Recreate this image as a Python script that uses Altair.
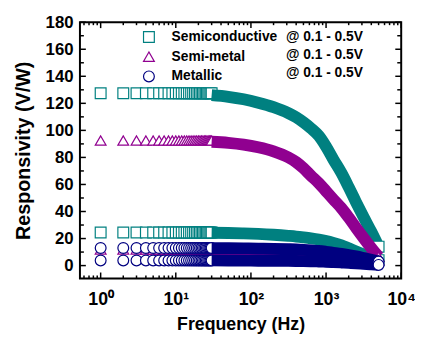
import altair as alt
import pandas as pd

MATERIALS = ["Semiconductive", "Semi-metal", "Metallic"]
COLORS = ["#008080", "#900090", "#000080"]
SHAPES = ["square", "triangle-up", "circle"]
VOLT_LABEL = "@ 0.1 - 0.5V"

FREQ = [1, 10, 20, 30, 50, 80, 125, 200, 315, 400, 500, 630, 800, 1000, 1250, 1600, 2000, 2500, 3150, 4000, 5000]
SEMI_05 = [127.5, 127.3, 126.8, 126.0, 124.8, 123.0, 120.5, 117.2, 112.8, 109.7, 106.0, 101.5, 96.0, 88.0, 78.5, 68.5, 58.0, 47.0, 36.0, 25.0, 14.0]
SEMI_01 = [24.5, 24.5, 24.4, 24.3, 24.1, 23.8, 23.4, 22.8, 22.0, 21.5, 20.9, 20.2, 19.3, 18.2, 16.8, 15.0, 12.8, 10.5, 8.2, 6.0, 4.0]
SEMIMETAL_05 = [92.5, 92.4, 92.0, 91.6, 90.8, 89.5, 87.5, 84.5, 80.0, 76.5, 72.0, 66.5, 61.0, 55.0, 49.0, 42.5, 35.5, 28.0, 20.5, 13.0, 6.5]
SEMIMETAL_01 = [12.0, 12.0, 12.0, 11.9, 11.8, 11.7, 11.5, 11.2, 10.8, 10.5, 10.2, 9.8, 9.4, 8.9, 8.4, 7.8, 7.1, 6.4, 5.6, 4.8, 4.0]
METALLIC_05 = [13.0, 13.0, 12.9, 12.9, 12.8, 12.7, 12.6, 12.4, 12.1, 11.9, 11.6, 11.2, 10.8, 10.2, 9.5, 8.7, 7.8, 6.8, 5.6, 4.3, 3.0]
METALLIC_01 = [3.8, 3.8, 3.8, 3.8, 3.7, 3.7, 3.6, 3.6, 3.5, 3.4, 3.3, 3.2, 3.0, 2.8, 2.6, 2.3, 2.0, 1.7, 1.3, 0.9, 0.5]

# the individually visible measurement points at low frequency (1 Hz steps)
MARKER_FREQ = list(range(1, 31))

X_MAJOR = [1, 10, 100, 1000, 10000]
X_MINOR = [0.6, 0.7, 0.8, 0.9] + [k * 10 ** d for d in range(4) for k in range(2, 10)]
Y_MAJOR = list(range(0, 181, 20))
Y_MINOR = list(range(10, 180, 20))

SERIES = [
    ("Semiconductive", "0.5V", SEMI_05),
    ("Semiconductive", "0.1V", SEMI_01),
    ("Semi-metal", "0.5V", SEMIMETAL_05),
    ("Semi-metal", "0.1V", SEMIMETAL_01),
    ("Metallic", "0.5V", METALLIC_05),
    ("Metallic", "0.1V", METALLIC_01),
]

curve_rows, mark_rows = [], []
for mat, volt, vals in SERIES:
    key = mat + " " + volt
    for f, r in zip(FREQ, vals):
        curve_rows.append({"material": mat, "key": key, "f": f, "r": r})
    for f in MARKER_FREQ:
        mark_rows.append({"material": mat, "key": key, "f": f, "r": vals[0]})
curve = pd.DataFrame(curve_rows)
marks = pd.DataFrame(mark_rows)

W, H = 326, 260
FONT = "Liberation Sans"

xscale = alt.Scale(type="log", domain=[0.53, 10000], nice=False)
yscale = alt.Scale(domain=[-9.5, 180], nice=False, zero=False)

xaxis = alt.Axis(values=X_MAJOR, tickSize=0, domain=False, grid=False,
                 labelExpr="'10' + ['⁰','¹','²','³','⁴'][round(log(datum.value)/LN10)]",
                 labelFont=FONT, labelFontSize=18, labelFontWeight="bold", labelColor="black",
                 labelPadding=12, labelFlush=False,
                 title="Frequency (Hz)", titleFont=FONT, titleFontSize=18, titleFontWeight="bold",
                 titleColor="black", titlePadding=8)
yaxis = alt.Axis(values=Y_MAJOR, tickSize=0, domain=False, grid=False,
                 labelFont=FONT, labelFontSize=17, labelFontWeight="bold", labelColor="black",
                 labelPadding=7,
                 title="Responsivity (V/W)", titleFont=FONT, titleFontSize=20, titleFontWeight="bold",
                 titleColor="black", titlePadding=12)

X = alt.X("f:Q", scale=xscale, axis=xaxis)
Y = alt.Y("r:Q", scale=yscale, axis=yaxis)

legend = alt.Legend(orient="none", legendX=63, legendY=8, title=None,
                    symbolSize=120, symbolStrokeWidth=1.2, symbolFillColor="white",
                    labelFont=FONT, labelFontSize=14, labelFontWeight="bold", labelColor="black",
                    labelOffset=16, rowPadding=4, padding=0)
color_enc = alt.Color("material:N", scale=alt.Scale(domain=MATERIALS, range=COLORS), legend=legend)
shape_enc = alt.Shape("material:N", scale=alt.Scale(domain=MATERIALS, range=SHAPES), legend=legend)

layers = []
for mat, col, shp in zip(MATERIALS, COLORS, SHAPES):
    pts = alt.Chart(marks[marks.material == mat]).mark_point(
        size=120, fill="white", strokeWidth=1.2, opacity=1, filled=False
    ).encode(x=X, y=Y, color=color_enc, shape=shape_enc, detail="key:N")
    band = alt.Chart(curve[(curve.material == mat) & (curve.f >= 30)]).mark_line(
        strokeWidth=12, strokeCap="butt", strokeJoin="round", interpolate="monotone", color=col
    ).encode(x=X, y=Y, detail="key:N", order="f:Q")
    end = alt.Chart(curve[(curve.material == mat) & (curve.f == 5000)]).mark_point(
        size=120, fill="white", strokeWidth=1.2, opacity=1, filled=False
    ).encode(x=X, y=Y, color=color_enc, shape=shape_enc, detail="key:N")
    layers += [pts, band, end]

for text_y in [15, 33.3, 51.7]:
    layers.append(alt.Chart(pd.DataFrame({"t": [VOLT_LABEL]})).mark_text(
        align="left", baseline="middle", font=FONT, fontSize=14, fontWeight="bold", color="black"
    ).encode(text="t:N", x=alt.value(209), y=alt.value(text_y)))

xmaj = pd.DataFrame({"f": X_MAJOR})
xmin = pd.DataFrame({"f": X_MINOR})
ymaj = pd.DataFrame({"r": Y_MAJOR})
ymin = pd.DataFrame({"r": Y_MINOR})
tick = dict(color="black", strokeWidth=1.5)
layers += [
    alt.Chart(xmaj).mark_rule(**tick).encode(x=X, y=alt.value(H), y2=alt.value(H - 6)),
    alt.Chart(xmaj).mark_rule(**tick).encode(x=X, y=alt.value(0), y2=alt.value(6)),
    alt.Chart(xmin).mark_rule(**tick).encode(x=X, y=alt.value(H), y2=alt.value(H - 3)),
    alt.Chart(xmin).mark_rule(**tick).encode(x=X, y=alt.value(0), y2=alt.value(3)),
    alt.Chart(ymaj).mark_rule(**tick).encode(y=Y, x=alt.value(0), x2=alt.value(6)),
    alt.Chart(ymaj).mark_rule(**tick).encode(y=Y, x=alt.value(W), x2=alt.value(W - 6)),
    alt.Chart(ymin).mark_rule(**tick).encode(y=Y, x=alt.value(0), x2=alt.value(4)),
    alt.Chart(ymin).mark_rule(**tick).encode(y=Y, x=alt.value(W), x2=alt.value(W - 4)),
]

chart = alt.layer(*layers).properties(
    width=W, height=H,
    autosize=alt.AutoSizeParams(type="none"),
    padding={"left": 73, "top": 12, "right": 14, "bottom": 56},
).configure_view(stroke="black", strokeWidth=2)

chart.save("out.html", embed_options={"renderer": "svg", "actions": False})
